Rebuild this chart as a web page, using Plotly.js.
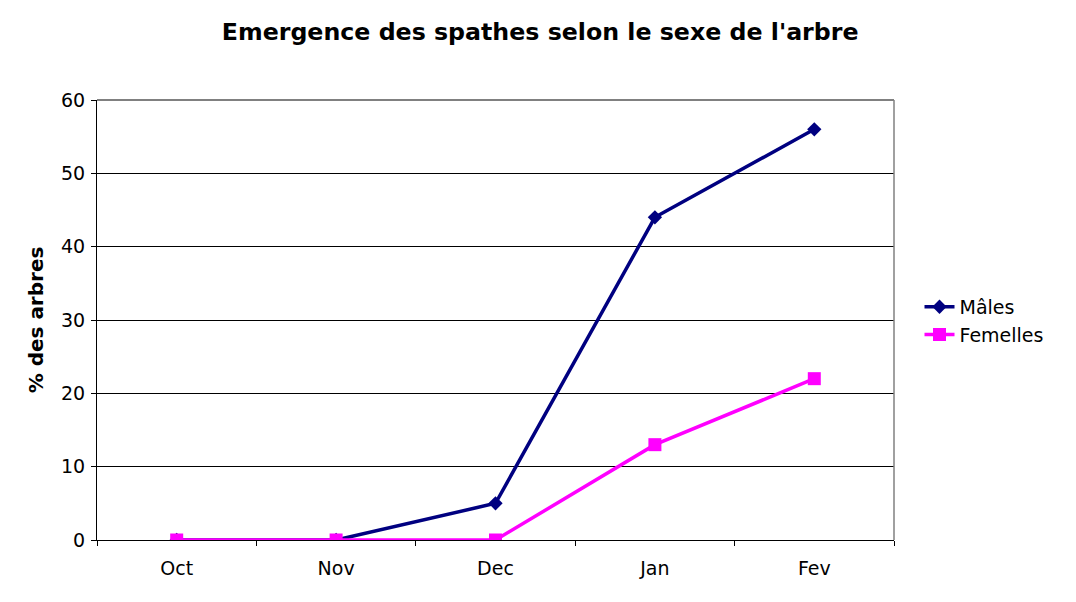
<!DOCTYPE html>
<html><head><meta charset="utf-8">
<script src="https://cdn.plot.ly/plotly-3.0.1.min.js"></script>
<style>html,body{margin:0;padding:0;background:#fff;}#chart{width:1076px;height:602px;}</style>
</head><body><div id="chart"></div>
<script>
const months = ["Oct","Nov","Dec","Jan","Fev"];
const males = [0,0,5,44,56];
const femelles = [0,0,0,13,22];
const yTicks = [0,10,20,30,40,50,60];

const font = "DejaVu Sans, Verdana, sans-serif";
const traces = [
  {x: months, y: males, name: "Mâles", type: "scatter", mode: "lines+markers",
   line: {color: "#000080", width: 3.5}, marker: {symbol: "diamond", size: 11, color: "#000080"}},
  {x: months, y: femelles, name: "Femelles", type: "scatter", mode: "lines+markers",
   line: {color: "#FF00FF", width: 3.5}, marker: {symbol: "square", size: 13, color: "#FF00FF"}}
];
const layout = {
  width: 1076, height: 602,
  margin: {l: 97, r: 182, t: 100, b: 62},
  paper_bgcolor: "#fff", plot_bgcolor: "#fff",
  font: {family: font, size: 19, color: "#000"},
  title: {text: "<b>Emergence des spathes selon le sexe de l'arbre</b>", x: 0.502, xanchor: "center", y: 0.947, yanchor: "middle", font: {family: font, size: 23.7, color: "#000"}},
  xaxis: {type: "category", range: [-0.5, 4.5], tickson: "boundaries", ticks: "outside", ticklen: 5, tickcolor: "#000",
          showline: true, linecolor: "#000", linewidth: 1, showgrid: false, zeroline: false, fixedrange: true,
          ticklabelstandoff: 11,
          tickfont: {family: font, size: 19}},
  yaxis: {range: [0, 60], tickvals: yTicks, ticktext: yTicks.map(String), ticks: "outside", ticklen: 5, tickcolor: "#000",
          showline: true, linecolor: "#000", linewidth: 1, showgrid: true, gridcolor: "#000", gridwidth: 1, zeroline: false,
          tickfont: {family: font, size: 19}, ticklabelstandoff: 2,
          title: {text: "<b>% des arbres</b>", font: {family: font, size: 20}, standoff: 12}},
  shapes: [
    {type: "line", xref: "paper", yref: "paper", x0: 0, x1: 1, y0: 1, y1: 1, line: {color: "#808080", width: 2}},
    {type: "line", xref: "paper", yref: "paper", x0: 1, x1: 1, y0: 0, y1: 1, line: {color: "#808080", width: 1.5}}
  ],
  legend: {x: 1.032, xanchor: "left", y: 0.498, yanchor: "middle", font: {family: font, size: 19}, bgcolor: "rgba(0,0,0,0)", tracegroupgap: 0},
  showlegend: true
};
Plotly.newPlot("chart", traces, layout, {displayModeBar: false, staticPlot: true});
</script></body></html>
